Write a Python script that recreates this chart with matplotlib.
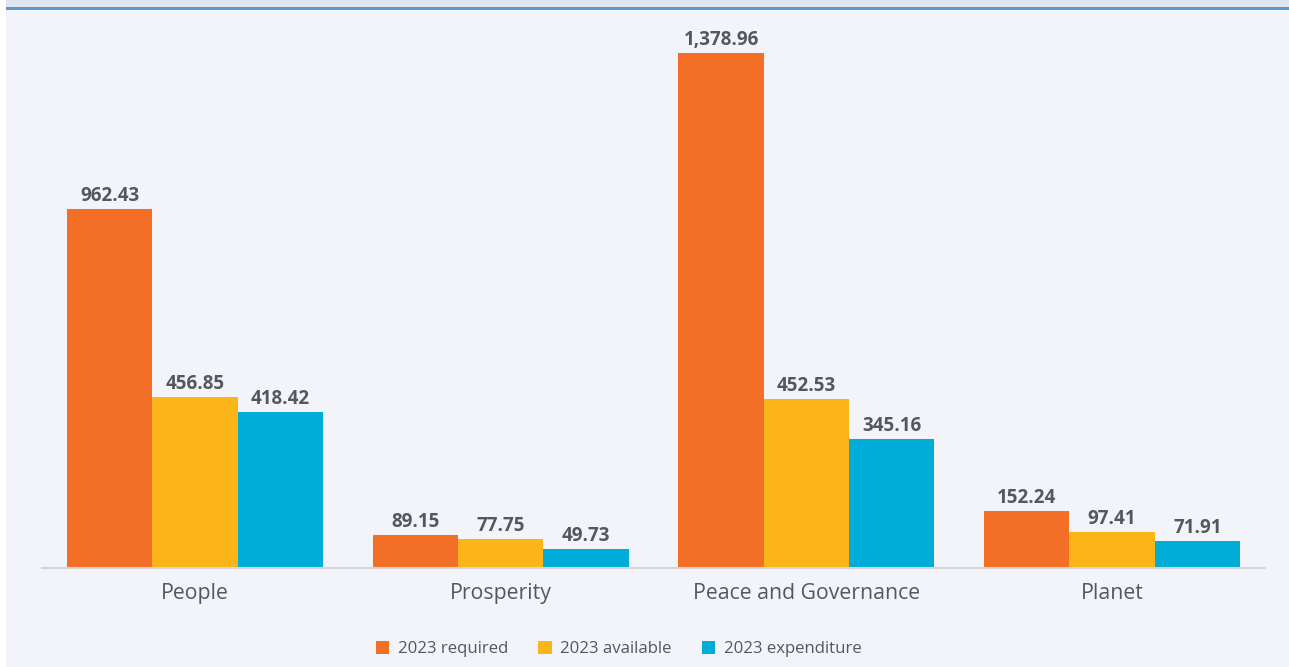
import matplotlib.pyplot as plt
import numpy as np

plt.rcParams['font.family'] = ['Open Sans', 'DejaVu Sans']

categories = ['People', 'Prosperity', 'Peace and Governance', 'Planet']
series_names = ['2023 required', '2023 available', '2023 expenditure']
required = [962.43, 89.15, 1378.96, 152.24]
available = [456.85, 77.75, 452.53, 97.41]
expenditure = [418.42, 49.73, 345.16, 71.91]
colors = ['#f36f27', '#fbb518', '#00acd8']

bg = '#f3f4f9'
text_color = '#54585e'

W, H = 1289, 667
fig = plt.figure(figsize=(W / 100, H / 100), dpi=100)
fig.patch.set_facecolor(bg)

# header strip and blue rule along the top, white margin on the left
fig.patches.append(plt.Rectangle((0, 1 - 7 / H), 1, 7 / H, transform=fig.transFigure,
                                 facecolor='#dfe6f3', edgecolor='none', zorder=0))
fig.patches.append(plt.Rectangle((0, 1 - 10 / H), 1, 3 / H, transform=fig.transFigure,
                                 facecolor='#5b97d5', edgecolor='none', zorder=0))
fig.patches.append(plt.Rectangle((0, 0), 6 / W, 1, transform=fig.transFigure,
                                 facecolor='white', edgecolor='none', zorder=1))

# axes area in pixels: x 42..1265, baseline at y=568
ax_left, ax_right = 42, 1265
ax_bottom, ax_top = 568, 12
ax = fig.add_axes([ax_left / W, 1 - ax_bottom / H, (ax_right - ax_left) / W, (ax_bottom - ax_top) / H])
ax.set_facecolor(bg)

px_per_unit = (568 - 53) / 1378.96
ax.set_ylim(0, (ax_bottom - ax_top) / px_per_unit)
ax.set_xlim(-0.5, len(categories) - 0.5)

x = np.arange(len(categories))
bar_w = 0.279
for i, (vals, name, c) in enumerate(zip([required, available, expenditure], series_names, colors)):
    pos = x + (i - 1) * bar_w
    ax.bar(pos, vals, width=bar_w, color=c, label=name, zorder=2)
    for xp, v in zip(pos, vals):
        ax.text(xp, v + 8, f'{v:,.2f}', ha='center', va='bottom', fontsize=13.5,
                fontweight='bold', color=text_color)

for s in ['top', 'right', 'left']:
    ax.spines[s].set_visible(False)
ax.spines['bottom'].set_color('#d4d5d8')
ax.spines['bottom'].set_linewidth(1.5)
ax.set_yticks([])
ax.set_xticks(x)
ax.set_xticklabels(categories, fontsize=15.3, color=text_color)
ax.tick_params(axis='x', length=0, pad=11)

leg = fig.legend(loc='center', bbox_to_anchor=(618.5 / W, 1 - 649 / H), ncol=3, frameon=False,
                 fontsize=12.1, handlelength=0.8, handleheight=0.8, handletextpad=0.5,
                 columnspacing=1.8, labelcolor=text_color)

fig.savefig('out.png', dpi=100, facecolor=bg)
